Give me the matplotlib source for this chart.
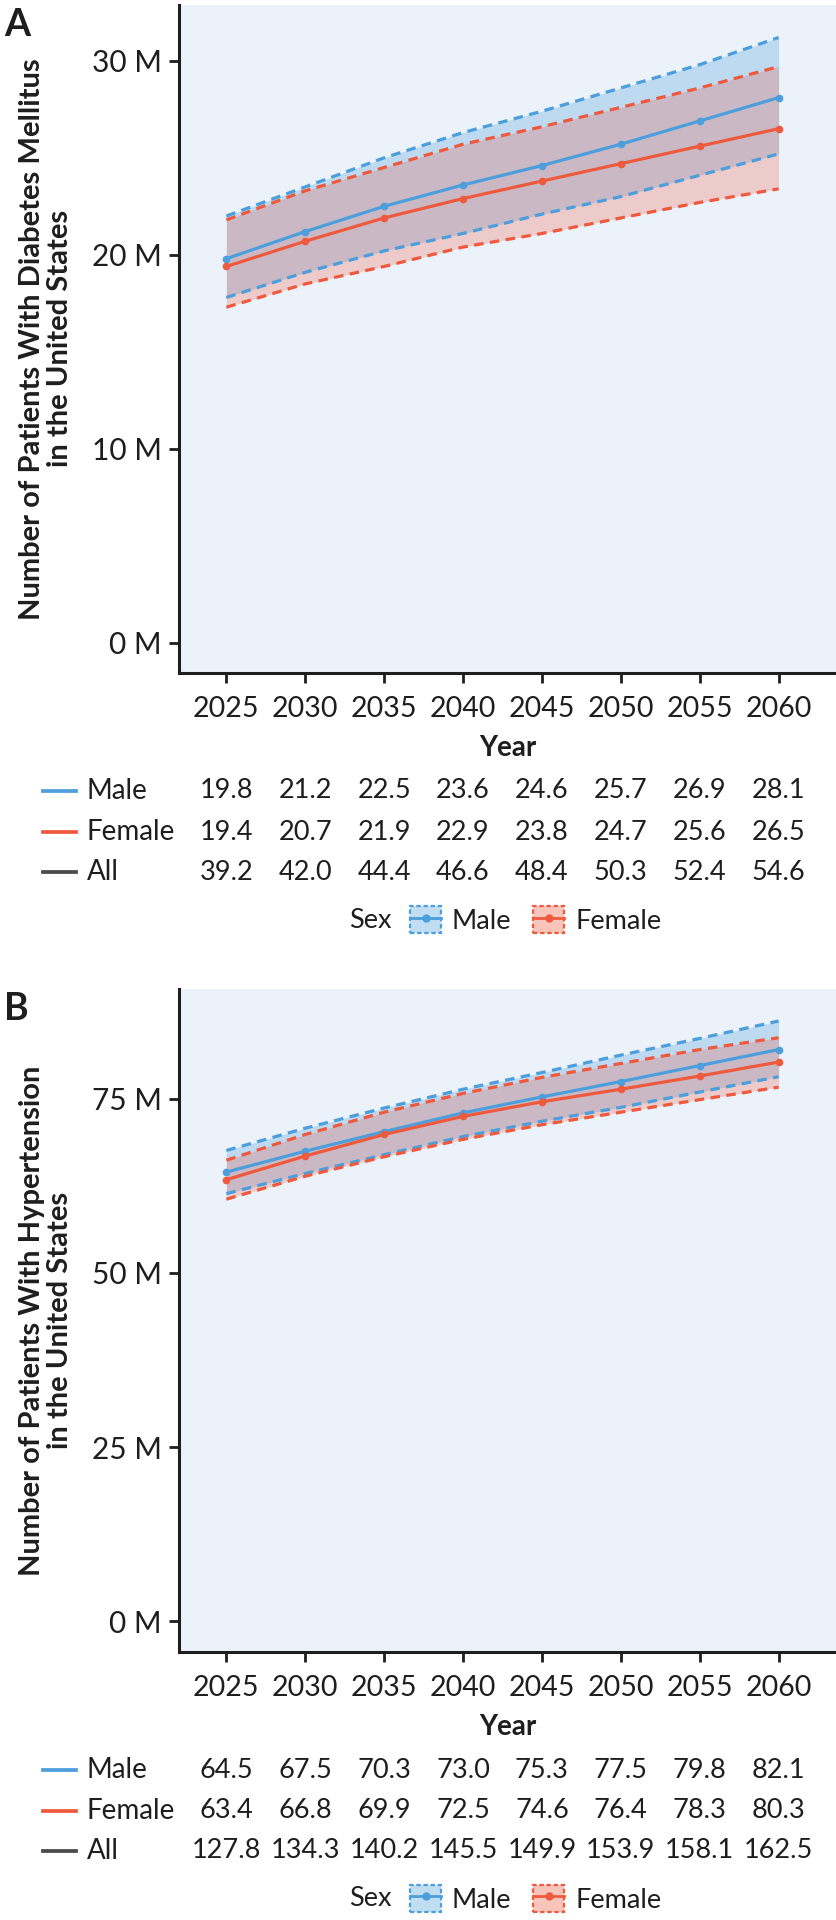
import numpy as np
import matplotlib
matplotlib.use("Agg")
import matplotlib.pyplot as plt
from matplotlib.patches import Patch
from matplotlib.lines import Line2D

plt.rcParams['font.family'] = ['Lato', 'DejaVu Sans']

years = [2025, 2030, 2035, 2040, 2045, 2050, 2055, 2060]

# Panel A - diabetes mellitus (millions)
dm_male = [19.8, 21.2, 22.5, 23.6, 24.6, 25.7, 26.9, 28.1]
dm_female = [19.4, 20.7, 21.9, 22.9, 23.8, 24.7, 25.6, 26.5]
dm_all = [39.2, 42.0, 44.4, 46.6, 48.4, 50.3, 52.4, 54.6]
dm_male_hi = [22.0, 23.5, 25.0, 26.3, 27.4, 28.6, 29.8, 31.2]
dm_male_lo = [17.8, 19.1, 20.2, 21.1, 22.1, 23.0, 24.1, 25.2]
dm_female_hi = [21.8, 23.3, 24.5, 25.7, 26.6, 27.6, 28.6, 29.7]
dm_female_lo = [17.3, 18.5, 19.4, 20.4, 21.1, 21.9, 22.7, 23.4]

# Panel B - hypertension (millions)
htn_male = [64.5, 67.5, 70.3, 73.0, 75.3, 77.5, 79.8, 82.1]
htn_female = [63.4, 66.8, 69.9, 72.5, 74.6, 76.4, 78.3, 80.3]
htn_all = [127.8, 134.3, 140.2, 145.5, 149.9, 153.9, 158.1, 162.5]
htn_male_hi = [67.6, 70.8, 73.7, 76.4, 78.8, 81.3, 83.7, 86.2]
htn_male_lo = [61.4, 64.3, 67.0, 69.6, 71.8, 73.8, 76.0, 78.2]
htn_female_hi = [66.2, 69.9, 73.1, 75.8, 78.1, 80.1, 82.1, 83.8]
htn_female_lo = [60.6, 63.9, 66.7, 69.2, 71.3, 73.1, 74.9, 76.7]

BLUE = '#4c9fdc'
RED = '#ef5a3e'
GREY = '#4a4a4a'
BG = '#ebf2fa'
INK = '#1e1e1e'

W, H = 837, 1920
fig = plt.figure(figsize=(W / 100, H / 100), dpi=100)


def fx(px):
    return px / W


def fy(py):
    return 1 - py / H


def draw_panel(top, bottom, letter, ylabel, ylim, yticks,
               male, female, total, m_hi, m_lo, f_hi, f_lo):
    ax = fig.add_axes([fx(179), fy(bottom), fx(837) - fx(179), (bottom - top) / H])
    ax.set_facecolor(BG)

    ax.fill_between(years, m_lo, m_hi, color=BLUE, alpha=0.28, lw=0, zorder=1)
    ax.fill_between(years, f_lo, f_hi, color=RED, alpha=0.25, lw=0, zorder=1)
    for hi, lo, c in [(m_hi, m_lo, BLUE), (f_hi, f_lo, RED)]:
        ax.plot(years, hi, color=c, lw=2.3, ls=(0, (3, 2)), zorder=2)
        ax.plot(years, lo, color=c, lw=2.3, ls=(0, (3, 2)), zorder=2)
    ax.plot(years, male, color=BLUE, lw=2.3, marker='o', ms=4.5, zorder=3)
    ax.plot(years, female, color=RED, lw=2.3, marker='o', ms=4.5, zorder=3)

    ax.set_xlim(2022, 2063.7)
    ax.set_ylim(*ylim)
    ax.set_xticks(years)
    ax.set_yticks(yticks)
    ax.set_yticklabels([f'{v} M' for v in yticks])
    for s in ['top', 'right']:
        ax.spines[s].set_visible(False)
    for s in ['left', 'bottom']:
        ax.spines[s].set_linewidth(2.2)
        ax.spines[s].set_color(INK)
    ax.tick_params(axis='both', length=7.2, width=2, color=INK, labelcolor=INK)
    ax.tick_params(axis='x', pad=9.5, labelsize=20.5)
    ax.tick_params(axis='y', pad=5, labelsize=21.5)

    ax.set_xlabel('Year', fontsize=20, fontweight='bold', color=INK, labelpad=9)
    ax.set_ylabel(ylabel, fontsize=21, fontweight='bold', color=INK,
                  va='center', linespacing=1.1)
    ax.yaxis.set_label_coords(fx(46 - 179) * W / 658, 0.5)

    fig.text(fx(4), fy(top + 3), letter, fontsize=27, fontweight='bold',
             color=INK, va='top', ha='left')

    # table under the axis
    rows = [('Male', male, BLUE, 118), ('Female', female, RED, 159),
            ('All', total, GREY, 199)]
    for name, vals, c, off in rows:
        y = fy(bottom + off)
        fig.add_artist(Line2D([fx(43), fx(76)], [y, y], color=c, lw=2.7,
                              transform=fig.transFigure))
        fig.text(fx(87), y, name, fontsize=20, color=INK, va='center', ha='left')
        for yr, v in zip(years, vals):
            ax.annotate(f'{v:.1f}', xy=(yr, 0), xycoords=('data', 'axes fraction'),
                        xytext=(0, -off * 0.72), textcoords='offset points',
                        ha='center', va='center', fontsize=19.5, color=INK,
                        annotation_clip=False)

    # Sex legend
    ly = fy(bottom + 247)
    fig.text(fx(392), ly, 'Sex', fontsize=19.5, color=INK, va='center', ha='right')
    handles = []
    for c in [BLUE, RED]:
        handles.append((Patch(facecolor=c, alpha=0.35, edgecolor='none'),
                        Patch(facecolor='none', edgecolor=c, lw=1.6, ls=(0, (2, 1.2))),
                        Line2D([], [], color=c, lw=2, marker='o', ms=5)))
    fig.legend(handles, ['Male', 'Female'], ncol=2, frameon=False,
               loc='center left', bbox_to_anchor=(fx(410), ly),
               bbox_transform=fig.transFigure, fontsize=19.5,
               handlelength=1.15, handleheight=1.15, handletextpad=0.4,
               columnspacing=0.8, borderpad=0, borderaxespad=0,
               labelcolor=INK)
    return ax


draw_panel(4.5, 673, 'A', 'Number of Patients With Diabetes Mellitus\nin the United States',
           (-1.55, 32.9), [0, 10, 20, 30],
           dm_male, dm_female, dm_all, dm_male_hi, dm_male_lo, dm_female_hi, dm_female_lo)
draw_panel(989, 1652, 'B', 'Number of Patients With Hypertension\nin the United States',
           (-4.45, 90.8), [0, 25, 50, 75],
           htn_male, htn_female, htn_all, htn_male_hi, htn_male_lo, htn_female_hi, htn_female_lo)

fig.savefig('out.png', dpi=100)
